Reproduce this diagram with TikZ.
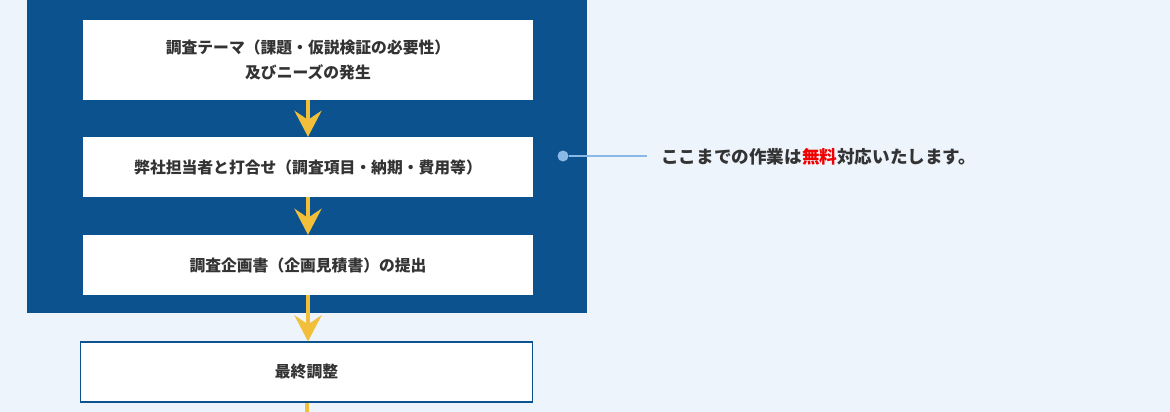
\documentclass[tikz,border=0pt]{standalone}
\usepackage{fontspec}
\setmainfont{Noto Sans CJK JP}
\usetikzlibrary{arrows.meta}
\definecolor{bgc}{HTML}{EDF4FB}
\definecolor{panel}{HTML}{0C528F}
\definecolor{arrowc}{HTML}{F2BF3A}
\definecolor{linec}{HTML}{8BB9E6}
\definecolor{txt}{HTML}{333333}
\definecolor{redc}{HTML}{F00000}
\tikzset{
  box/.style={fill=white, minimum height=60pt, align=center, inner sep=0pt,
    text=txt, font=\bfseries\fontsize{15.8}{25}\selectfont},
  arr/.style={draw=arrowc, line width=4pt,
    -{Stealth[length=26pt, width=27pt, inset=9pt]}},
  dot/.style={circle, fill=linec, minimum size=11pt, inner sep=0pt},
}
\begin{document}
\begin{tikzpicture}[x=1pt, y=-1pt]
\fill[bgc] (0,0) rectangle (1170,412);
\useasboundingbox (0,0) rectangle (1170,412);
\fill[panel] (27,0) rectangle (587,313);
\node[box, minimum width=450pt, minimum height=80pt] (b1) at (308,60)
  {調査テーマ（課題・仮説検証の必要性）\\及びニーズの発生};
\node[box, minimum width=450pt] (b2) at (308,167)
  {弊社担当者と打合せ（調査項目・納期・費用等）};
\node[box, minimum width=450pt] (b3) at (308,265)
  {調査企画書（企画見積書）の提出};
\node[box, draw=panel, line width=1.2pt, minimum width=452pt] (b4) at (306.5,372)
  {最終調整};
\coordinate (bend) at (306.5,412);
\draw[arr] (b1.south) -- (b2.north);
\draw[arr] (b2.south) -- (b3.north);
\draw[arr] (b3.south) -- (b3.south |- b4.north);
\draw[draw=arrowc, line width=4pt] (b4.south) -- (bend);
\node[dot] (d) at (563,156) {};
\coordinate (e) at (647,156);
\draw[linec, line width=2.5pt] (d) -- (e);
\node[anchor=west, text=txt, font=\bfseries\fontsize{17.6}{20}\selectfont, inner sep=0pt]
  (t) at (661,157) {ここまでの作業は\textcolor{redc}{無料}対応いたします。};
\end{tikzpicture}
\end{document}
